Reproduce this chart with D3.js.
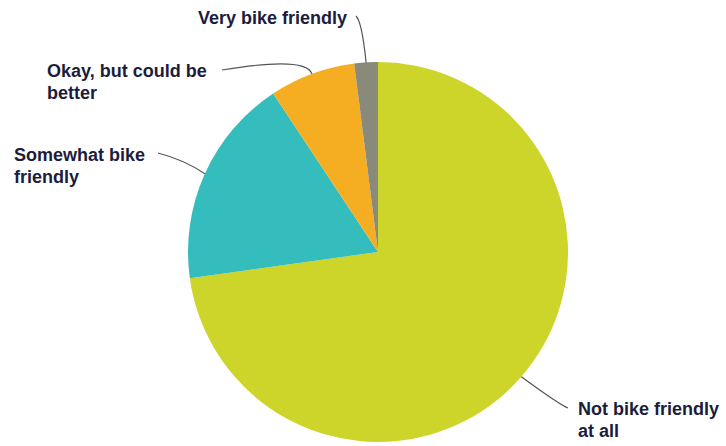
<!DOCTYPE html>
<html lang="en">
<head>
<script src="https://d3js.org/d3.v7.min.js"></script>
<style>
  body { margin: 0; background: #fff; }
  text { font-family: Arial, "Liberation Sans", sans-serif; font-weight: bold; font-size: 18px; fill: #1c1c3c; }
</style>
</head>
<body>
<svg width="726" height="446"></svg>
<script>
// slices, clockwise from 12 o'clock
var categories = ["Not bike friendly at all", "Somewhat bike friendly", "Okay, but could be better", "Very bike friendly"];
var values = [72.8, 17.9, 7.3, 2.0];
var colors = ["#cdd42a", "#35bcbc", "#f5ae22", "#8a8a7a"];
var labelLines = [["Not bike friendly", "at all"], ["Somewhat bike", "friendly"], ["Okay, but could be", "better"], ["Very bike friendly"]];

// label layout (text spot + elbow/end of leader line)
var labelPos = [
  { x: 578, y: 415, elbow: [560, 405], end: [568, 408] },
  { x: 14,  y: 161, elbow: [185, 160], end: [158, 153] },
  { x: 47,  y: 77,  elbow: [306, 56],  end: [222, 70] },
  { x: 198, y: 24,  elbow: [362, 22],  end: [356, 16] }
];

var svg = d3.select("svg"),
    cx = 378, cy = 252, radius = 190;

var data = categories.map(function(c, i) { return { name: c, value: values[i], i: i }; });

var pie = d3.pie().sort(null).value(function(d) { return d.value; });
var arc = d3.arc().innerRadius(0).outerRadius(radius);

var g = svg.append("g").attr("transform", "translate(" + cx + "," + cy + ")");
var arcs = pie(data);

g.selectAll("path.slice")
  .data(arcs)
  .enter().append("path")
  .attr("class", "slice")
  .attr("d", arc)
  .attr("fill", function(d) { return colors[d.data.i]; });

// leader lines from the slice's mid angle on the rim
arcs.forEach(function(d, i) {
  var a = (d.startAngle + d.endAngle) / 2;
  var px = cx + radius * Math.sin(a), py = cy - radius * Math.cos(a);
  var p = labelPos[i];
  var path = d3.path();
  path.moveTo(px, py);
  path.quadraticCurveTo(p.elbow[0], p.elbow[1], p.end[0], p.end[1]);
  svg.append("path")
    .attr("d", path.toString())
    .attr("fill", "none")
    .attr("stroke", "#555")
    .attr("stroke-width", 1.2);

  var t = svg.append("text")
    .attr("x", p.x)
    .attr("y", p.y);
  labelLines[i].forEach(function(line, j) {
    t.append("tspan").attr("x", p.x).attr("dy", j === 0 ? 0 : 21.5).text(line);
  });
});
</script>
</body>
</html>
